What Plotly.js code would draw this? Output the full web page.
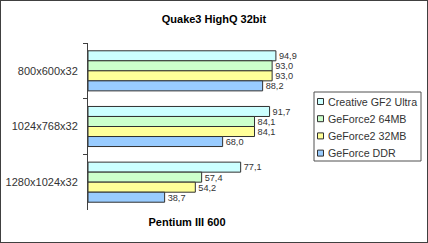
<!DOCTYPE html>
<html><head><meta charset="utf-8">
<script src="https://cdn.plot.ly/plotly-3.0.1.min.js"></script>
<style>
html,body{margin:0;padding:0;background:#fff;}
#wrap{position:relative;width:428px;height:243px;}
#frame{position:absolute;left:0;top:0;width:428px;height:243px;box-sizing:border-box;border:1px solid #404040;pointer-events:none;}
</style></head>
<body>
<div id="wrap"><div id="chart"></div><div id="frame"></div></div>
<script>
const categories = ["800x600x32", "1024x768x32", "1280x1024x32"];
const seriesNames = ["Creative GF2 Ultra", "GeForce2 64MB", "GeForce2 32MB", "GeForce DDR"];
const creativeGF2Ultra = [94.9, 91.7, 77.1];
const geforce2_64MB = [93.0, 84.1, 57.4];
const geforce2_32MB = [93.0, 84.1, 54.2];
const geforceDDR = [88.2, 68.0, 38.7];
const seriesValues = [creativeGF2Ultra, geforce2_64MB, geforce2_32MB, geforceDDR];
const seriesColors = ["#CCFFFF", "#CCFFCC", "#FFFF99", "#99CCFF"];

const font = "Liberation Sans, Arial, sans-serif";
const fmt = v => v.toFixed(1).replace(".", ",");

const traces = seriesValues.map((vals, i) => ({
  type: "bar",
  orientation: "h",
  name: seriesNames[i],
  x: vals,
  y: categories,
  text: vals.map(fmt),
  textposition: "outside",
  cliponaxis: false,
  textfont: {family: font, size: 11, color: "#333"},
  marker: {color: seriesColors[i], line: {color: "#303030", width: 1}},
  showlegend: false,
  hoverinfo: "none"
}));

// custom legend
const shapes = [];
const annotations = [];
const L = {x0: 314, x1: 421, y0: 92, y1: 161};
const W = 428, H = 243, ml = 88, mr = 142, mt = 43, mb = 33;
const pw = W - ml - mr, ph = H - mt - mb;
const px = x => (x - ml) / pw;
const py = y => (H - mb - y) / ph;
shapes.push({type: "rect", xref: "paper", yref: "paper", x0: px(L.x0), x1: px(L.x1), y0: py(L.y0), y1: py(L.y1),
  line: {color: "#505050", width: 1}, fillcolor: "#fff"});
seriesNames.forEach((n, i) => {
  const cy = 101.5 + i * 17.2;
  shapes.push({type: "rect", xref: "paper", yref: "paper", x0: px(317.5), x1: px(323.5), y0: py(cy - 3), y1: py(cy + 3),
    line: {color: "#303030", width: 1}, fillcolor: seriesColors[i]});
  annotations.push({xref: "paper", yref: "paper", x: px(326), y: py(cy), xanchor: "left", yanchor: "middle",
    text: n, showarrow: false, font: {family: font, size: 10.7, color: "#333"}});
});

const layout = {
  width: W, height: H,
  margin: {l: ml, r: mr, t: mt, b: mb, pad: 0},
  paper_bgcolor: "#fff", plot_bgcolor: "#fff",
  barmode: "group",
  bargap: 0.28,
  bargroupgap: 0,
  title: {text: "<b>Quake3 HighQ 32bit</b>", x: 0.5, xanchor: "center", y: 1 - 19 / H, yanchor: "middle",
    font: {family: font, size: 11, color: "#000"}},
  xaxis: {range: [0, 100], showgrid: false, zeroline: false, showticklabels: false, ticks: "", showline: false,
    title: {text: "<b>Pentium III 600</b>", font: {family: font, size: 11, color: "#000"}, standoff: 8}},
  yaxis: {autorange: "reversed", type: "category", showgrid: false, zeroline: false, showline: true,
    linecolor: "#404040", linewidth: 1, ticks: "outside", ticklen: 4, tickcolor: "#404040",
    tickson: "boundaries", ticklabelstandoff: 7,
    tickfont: {family: font, size: 11, color: "#333"}},
  shapes: shapes,
  annotations: annotations,
  showlegend: false
};
Plotly.newPlot("chart", traces, layout, {displayModeBar: false, staticPlot: true});
</script>
</body></html>
